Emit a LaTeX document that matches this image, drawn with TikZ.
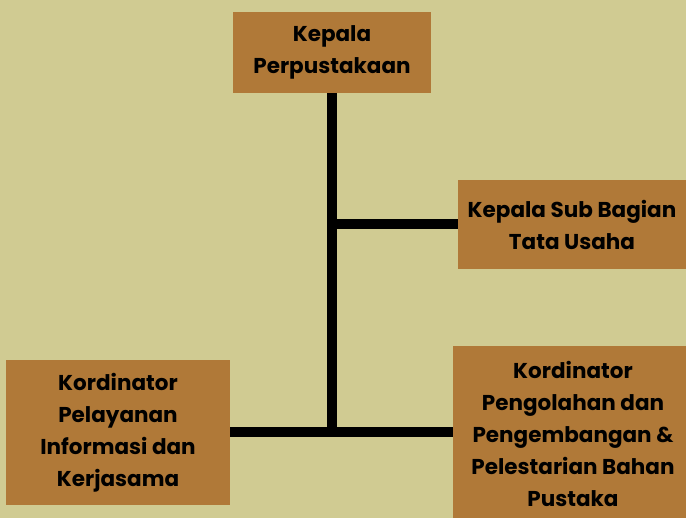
\documentclass[tikz,border=0pt]{standalone}
\usepackage{fontspec}
\setmainfont{Poppins}
\usetikzlibrary{positioning}
\definecolor{bgkhaki}{HTML}{D0CB92}
\definecolor{boxbrown}{HTML}{B07938}

\begin{document}
\begin{tikzpicture}[x=1pt, y=1pt,
    unit/.style={fill=boxbrown, inner sep=2pt, align=center,
        font=\fontsize{21.5}{32}\selectfont\bfseries},
    link/.style={line width=10pt}]
    \fill[bgkhaki] (0,0) rectangle (686,-518);
    \useasboundingbox (0,0) rectangle (686,-518);

    \node[unit, minimum width=198pt, minimum height=81pt] (kepala) at (332,-52.5) {Kepala\\Perpustakaan};
    \node[unit, minimum width=228pt, minimum height=89pt] (tu) at (572,-224.5) {Kepala Sub Bagian\\Tata Usaha};
    \node[unit, minimum width=224pt, minimum height=145pt] (pelayanan) at (118,-432.5) {Kordinator\\Pelayanan\\Informasi dan\\Kerjasama};
    \node[unit, minimum width=240pt, minimum height=176pt] (pengolahan) at (573,-434) {Kordinator\\Pengolahan dan\\Pengembangan \&\\Pelestarian Bahan\\Pustaka};

    \draw[link] (kepala.south) -- (kepala.south |- pelayanan.east);
    \draw[link] (kepala.south |- tu.west) -- (tu.west);
    \draw[link] (pelayanan.east) -- (pelayanan.east -| pengolahan.west);
\end{tikzpicture}
\end{document}
